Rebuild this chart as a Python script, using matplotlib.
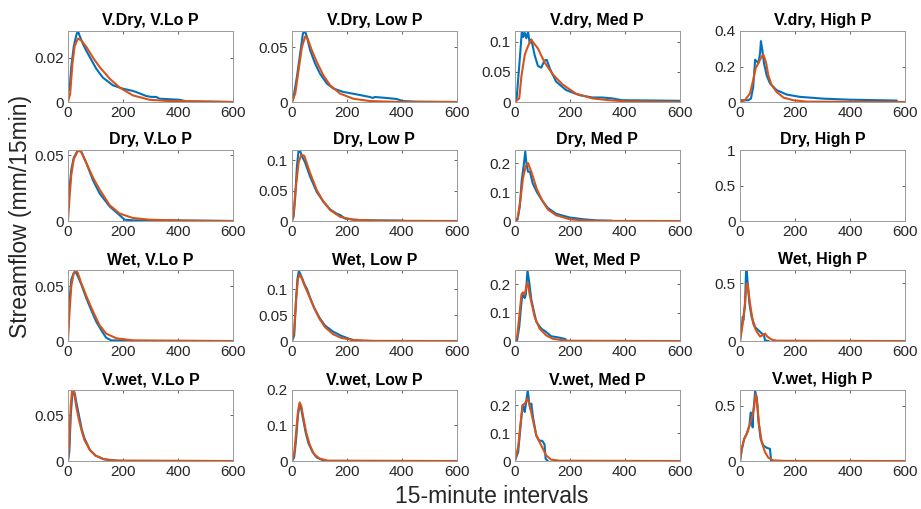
import matplotlib
matplotlib.use("Agg")
import matplotlib.pyplot as plt

plt.rcParams['font.family'] = ['Liberation Sans', 'DejaVu Sans']

# panel titles, row by row
titles = ["V.Dry, V.Lo P", "V.Dry, Low P", "V.dry, Med P", "V.dry, High P",
          "Dry, V.Lo P", "Dry, Low P", "Dry, Med P", "Dry, High P",
          "Wet, V.Lo P", "Wet, Low P", "Wet, Med P", "Wet, High P",
          "V.wet, V.Lo P", "V.wet, Low P", "V.wet, Med P", "V.wet, High P"]

y_max = [0.032, 0.065, 0.118, 0.4,
         0.054, 0.1167, 0.245, 1.0,
         0.0648, 0.137, 0.251, 0.617,
         0.078, 0.2, 0.255, 0.644]

y_ticks = [[0, 0.02], [0, 0.05], [0, 0.05, 0.1], [0, 0.2, 0.4],
           [0, 0.05], [0, 0.05, 0.1], [0, 0.1, 0.2], [0, 0.5, 1],
           [0, 0.05], [0, 0.05, 0.1], [0, 0.1, 0.2], [0, 0.5],
           [0, 0.05], [0, 0.1, 0.2], [0, 0.1, 0.2], [0, 0.5]]

x_ticks = [0, 200, 400, 600]

# observed (blue) and simulated (orange) hydrographs, (interval, flow)
vdry_vlo_obs = [(0, 0.005), (6, 0.0056), (12, 0.0158), (21, 0.025), (30, 0.030), (36, 0.032), (42, 0.030),
                (55, 0.026), (67, 0.023), (85, 0.019), (103, 0.015), (127, 0.011), (164, 0.0075), (200, 0.006),
                (236, 0.005), (248, 0.0045), (285, 0.0027), (303, 0.0023), (321, 0.0023), (333, 0.0015),
                (406, 0.001), (430, 0.0003), (600, 0)]
vdry_vlo_sim = [(0, 0), (8, 0.0038), (16, 0.017), (24, 0.025), (36, 0.0286), (48, 0.0278), (67, 0.0248),
                (91, 0.02), (115, 0.0158), (152, 0.0105), (188, 0.0065), (236, 0.003), (297, 0.001),
                (358, 0.0005), (600, 0)]

vdry_low_obs = [(0, 0), (6, 0.0046), (18, 0.023), (30, 0.0445), (40, 0.063), (48, 0.0644), (54, 0.06),
                (66, 0.0475), (84, 0.0353), (102, 0.026), (127, 0.0169), (151, 0.0123), (187, 0.0092),
                (235, 0.007), (283, 0.0046), (295, 0.0037), (301, 0.0046), (343, 0.0037), (380, 0.0028),
                (404, 0.0009), (452, 0.0003), (596, 0)]
vdry_low_sim = [(0, 0), (12, 0.0077), (24, 0.029), (36, 0.05), (48, 0.06), (57, 0.058), (72, 0.0475),
                (90, 0.0368), (114, 0.0245), (139, 0.0153), (175, 0.0077), (223, 0.003), (283, 0.0009),
                (380, 0.0001), (600, 0)]

vdry_med_obs = [(0, 0.001), (6, 0.003), (16, 0.06), (26, 0.12), (31, 0.108), (36, 0.115), (42, 0.106),
                (48, 0.117), (54, 0.098), (60, 0.104), (72, 0.078), (84, 0.06), (96, 0.057), (108, 0.069),
                (116, 0.070), (128, 0.055), (150, 0.034), (186, 0.02), (234, 0.0115), (282, 0.0075),
                (318, 0.0075), (354, 0.006), (390, 0.003), (600, 0.002)]
vdry_med_sim = [(0, 0), (16, 0.006), (24, 0.043), (36, 0.078), (42, 0.086), (54, 0.099), (60, 0.103),
                (84, 0.089), (108, 0.066), (138, 0.046), (174, 0.029), (222, 0.014), (282, 0.006),
                (342, 0.003), (402, 0.001), (600, 0)]

vdry_high_obs = [(0, 0.01), (30, 0.01), (40, 0.02), (48, 0.086), (55, 0.238), (61, 0.229), (67, 0.22),
                 (73, 0.276), (76, 0.343), (81, 0.295), (87, 0.22), (97, 0.15), (109, 0.105), (133, 0.067),
                 (170, 0.042), (218, 0.029), (303, 0.019), (400, 0.013), (509, 0.01), (570, 0.008)]
vdry_high_sim = [(0, 0), (18, 0.01), (36, 0.048), (48, 0.124), (57, 0.19), (67, 0.22), (79, 0.257),
                 (85, 0.267), (95, 0.22), (103, 0.15), (115, 0.095), (133, 0.057), (158, 0.025),
                 (194, 0.01), (242, 0.002), (600, 0)]

dry_vlo_obs = [(0, 0.008), (6, 0.025), (12, 0.039), (21, 0.048), (36, 0.054), (48, 0.053), (67, 0.044),
               (91, 0.031), (115, 0.021), (152, 0.011), (188, 0.0044), (206, 0.001), (236, 0.0005),
               (358, 0.0005), (600, 0)]
dry_vlo_sim = [(0, 0), (6, 0.0186), (12, 0.035), (21, 0.047), (36, 0.0534), (48, 0.0526), (67, 0.044),
               (91, 0.033), (115, 0.024), (152, 0.012), (188, 0.0057), (236, 0.0023), (297, 0.001),
               (418, 0.0003), (600, 0)]

dry_low_obs = [(0, 0.001), (6, 0.007), (12, 0.04), (18, 0.09), (24, 0.115), (30, 0.115), (36, 0.107),
               (48, 0.096), (66, 0.073), (90, 0.048), (114, 0.032), (139, 0.019), (163, 0.012),
               (175, 0.01), (193, 0.004), (223, 0.0024), (259, 0.0012), (404, 0.0006)]
dry_low_sim = [(0, 0), (6, 0.012), (12, 0.046), (24, 0.096), (34, 0.109), (45, 0.107), (66, 0.079),
               (90, 0.051), (114, 0.032), (139, 0.018), (175, 0.007), (223, 0.002), (319, 0.0005),
               (600, 0)]

dry_med_obs = [(0, 0), (10, 0.005), (18, 0.05), (25, 0.14), (32, 0.19), (38, 0.24), (42, 0.2),
               (48, 0.17), (55, 0.17), (65, 0.13), (80, 0.1), (100, 0.07), (120, 0.045), (150, 0.025),
               (200, 0.012), (250, 0.006), (300, 0.002), (350, 0.001)]
dry_med_sim = [(0, 0), (10, 0.01), (20, 0.07), (30, 0.15), (40, 0.19), (48, 0.2), (60, 0.17),
               (80, 0.11), (100, 0.07), (120, 0.04), (150, 0.02), (200, 0.006), (250, 0.002),
               (300, 0.0005), (600, 0)]

dry_high_obs = []
dry_high_sim = []

wet_vlo_obs = [(0, 0.008), (6, 0.038), (12, 0.056), (21, 0.062), (28, 0.063), (36, 0.059), (48, 0.052),
               (67, 0.039), (85, 0.028), (103, 0.0176), (121, 0.01), (139, 0.003), (158, 0.0006),
               (236, 0.0003)]
wet_vlo_sim = [(0, 0), (6, 0.028), (12, 0.05), (21, 0.062), (28, 0.0648), (36, 0.062), (48, 0.053),
               (67, 0.041), (91, 0.027), (115, 0.0145), (139, 0.0068), (176, 0.0025), (236, 0.0006),
               (600, 0)]

wet_low_obs = [(0, 0), (8, 0.01), (15, 0.08), (20, 0.12), (25, 0.135), (30, 0.13), (38, 0.12),
               (45, 0.11), (55, 0.1), (65, 0.085), (80, 0.065), (100, 0.045), (120, 0.03), (150, 0.018),
               (180, 0.01), (210, 0.004), (230, 0.001), (250, 0.0005)]
wet_low_sim = [(0, 0), (8, 0.02), (15, 0.08), (22, 0.12), (28, 0.128), (35, 0.122), (45, 0.108),
               (60, 0.09), (80, 0.065), (100, 0.043), (120, 0.027), (150, 0.013), (180, 0.006),
               (220, 0.002), (300, 0.0003), (600, 0)]

wet_med_obs = [(0, 0), (8, 0.002), (16, 0.05), (22, 0.116), (28, 0.17), (32, 0.158), (36, 0.152),
               (40, 0.164), (46, 0.25), (52, 0.21), (60, 0.146), (78, 0.068), (96, 0.044), (114, 0.032),
               (132, 0.017), (162, 0.012), (184, 0.007), (186, 0)]
wet_med_sim = [(0, 0), (8, 0.014), (16, 0.086), (24, 0.164), (30, 0.172), (36, 0.164), (42, 0.194),
               (47, 0.206), (54, 0.164), (72, 0.086), (90, 0.044), (114, 0.02), (138, 0.008),
               (186, 0.001), (600, 0)]

wet_high_obs = [(0, 0), (6, 0.12), (10, 0.21), (12, 0.18), (16, 0.27), (18, 0.3), (22, 0.62), (24, 0.62),
                (28, 0.5), (34, 0.33), (42, 0.21), (55, 0.12), (73, 0.08), (87, 0.05), (91, 0.006), (103, 0)]
wet_high_sim = [(0, 0), (10, 0.15), (18, 0.33), (24, 0.5), (28, 0.49), (36, 0.33), (48, 0.15), (61, 0.08),
                (73, 0.04), (82, 0.05), (91, 0.065), (99, 0.04), (115, 0.012), (133, 0.003), (600, 0)]

vwet_vlo_obs = [(0, 0), (5, 0.01), (10, 0.05), (15, 0.07), (20, 0.078), (25, 0.074), (30, 0.065),
                (40, 0.05), (50, 0.035), (60, 0.025), (80, 0.012), (100, 0.006), (130, 0.002),
                (160, 0.0005), (200, 0)]
vwet_vlo_sim = [(0, 0), (5, 0.02), (10, 0.06), (15, 0.078), (20, 0.078), (25, 0.07), (30, 0.06),
                (40, 0.045), (50, 0.033), (60, 0.023), (80, 0.012), (100, 0.006), (130, 0.002),
                (180, 0.0005), (600, 0)]

vwet_low_obs = [(0, 0), (8, 0.01), (15, 0.06), (22, 0.13), (28, 0.16), (33, 0.15), (40, 0.12), (50, 0.08),
                (60, 0.05), (75, 0.025), (90, 0.01), (110, 0.003), (130, 0)]
vwet_low_sim = [(0, 0), (8, 0.02), (15, 0.08), (22, 0.14), (28, 0.165), (34, 0.155), (42, 0.12),
                (52, 0.08), (65, 0.045), (80, 0.02), (100, 0.007), (130, 0.001), (600, 0)]

vwet_med_obs = [(0, 0), (12, 0.032), (20, 0.116), (28, 0.2), (32, 0.194), (36, 0.176), (42, 0.218),
                (47, 0.254), (52, 0.212), (56, 0.188), (60, 0.206), (66, 0.158), (78, 0.092), (88, 0.074),
                (100, 0.072), (108, 0.06), (112, 0.008), (120, 0)]
vwet_med_sim = [(0, 0), (12, 0.05), (20, 0.128), (28, 0.2), (36, 0.206), (46, 0.224), (54, 0.2),
                (66, 0.146), (78, 0.092), (90, 0.068), (102, 0.044), (114, 0.02), (132, 0.005),
                (162, 0.001), (600, 0)]

vwet_high_obs = [(0, 0), (6, 0.096), (15, 0.2), (24, 0.245), (34, 0.32), (39, 0.44), (42, 0.395),
                 (46, 0.305), (48, 0.425), (55, 0.635), (61, 0.575), (67, 0.365), (75, 0.2), (85, 0.14),
                 (97, 0.12), (109, 0.11), (113, 0.006), (121, 0)]
vwet_high_sim = [(0, 0), (6, 0.11), (15, 0.2), (27, 0.26), (36, 0.335), (45, 0.41), (51, 0.485),
                 (57, 0.605), (63, 0.515), (69, 0.335), (79, 0.17), (91, 0.08), (103, 0.03),
                 (121, 0.006), (158, 0.001), (600, 0)]

observed = [vdry_vlo_obs, vdry_low_obs, vdry_med_obs, vdry_high_obs,
            dry_vlo_obs, dry_low_obs, dry_med_obs, dry_high_obs,
            wet_vlo_obs, wet_low_obs, wet_med_obs, wet_high_obs,
            vwet_vlo_obs, vwet_low_obs, vwet_med_obs, vwet_high_obs]
simulated = [vdry_vlo_sim, vdry_low_sim, vdry_med_sim, vdry_high_sim,
             dry_vlo_sim, dry_low_sim, dry_med_sim, dry_high_sim,
             wet_vlo_sim, wet_low_sim, wet_med_sim, wet_high_sim,
             vwet_vlo_sim, vwet_low_sim, vwet_med_sim, vwet_high_sim]

fig = plt.figure(figsize=(9.21, 5.09), dpi=100)

lefts = [0.0738, 0.317, 0.559, 0.8035]
bottoms = [0.7996, 0.5658, 0.330, 0.0943]

for i in range(16):
    row, col = divmod(i, 4)
    ax = fig.add_axes([lefts[col], bottoms[row], 0.179, 0.1395])

    """draw observed first, simulated on top"""
    if observed[i]:
        xs, ys = zip(*observed[i])
        ax.plot(xs, ys, color="#0072BD", linewidth=1.5)
    if simulated[i]:
        xs, ys = zip(*simulated[i])
        ax.plot(xs, ys, color="#D95319", linewidth=1.5)

    ax.set_xlim(0, 600)
    ax.set_ylim(0, y_max[i])
    ax.set_xticks(x_ticks)
    ax.set_yticks(y_ticks[i])
    ax.set_yticklabels([("%g" % t) for t in y_ticks[i]])
    ax.set_title(titles[i], fontsize=11.5, fontweight="bold", pad=4)
    ax.tick_params(direction="in", length=2.5, width=0.5, top=True, right=True,
                   labelsize=11, colors="#262626", pad=3)
    for s in ax.spines.values():
        s.set_color("#9a9a9a")
        s.set_linewidth(0.7)

fig.text(0.534, 0.024, "15-minute intervals", ha="center", va="center", fontsize=16.5, color="#262626")
fig.text(0.022, 0.574, "Streamflow (mm/15min)", ha="center", va="center", rotation=90,
         fontsize=16.5, color="#262626")

fig.savefig("out.png", dpi=100)
